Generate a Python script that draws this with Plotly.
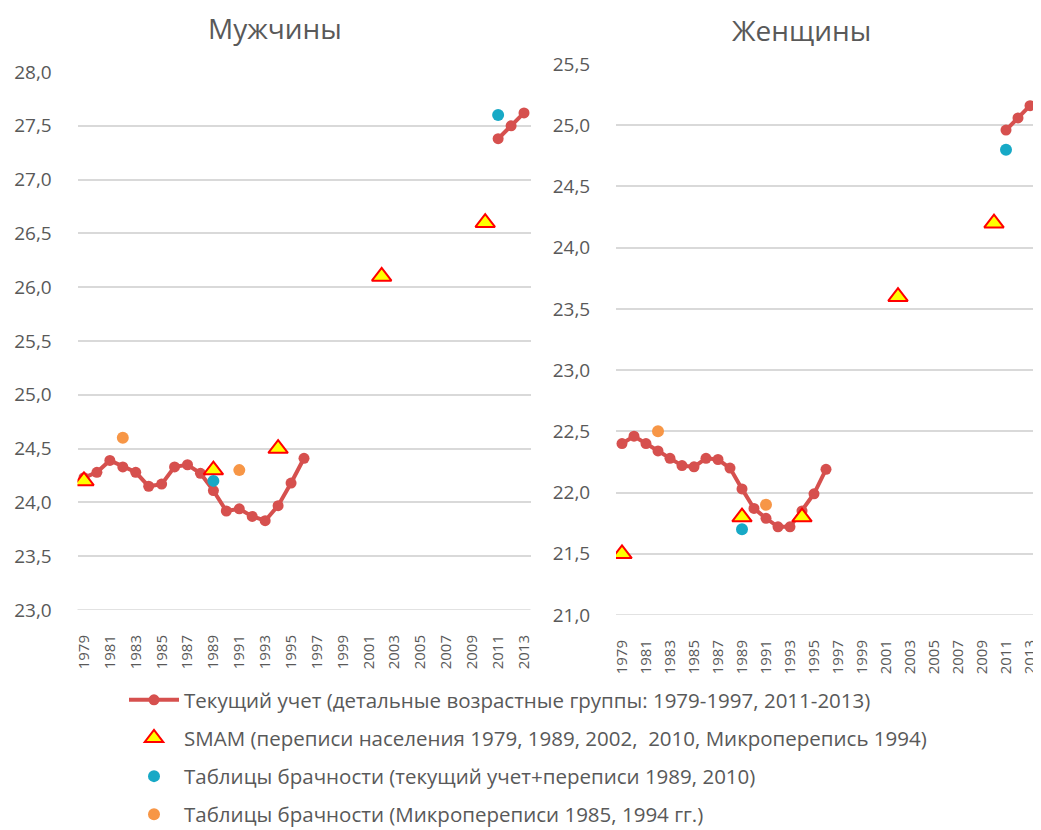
import plotly.graph_objects as go

years_line = list(range(1979, 1997)) + [2011, 2012, 2013]
men_line = [24.23, 24.28, 24.39, 24.33, 24.28, 24.15, 24.17, 24.33, 24.35, 24.27,
            24.11, 23.92, 23.94, 23.87, 23.83, 23.97, 24.18, 24.41,
            27.38, 27.50, 27.62]
women_line = [22.40, 22.46, 22.40, 22.34, 22.28, 22.22, 22.21, 22.28, 22.27, 22.20,
              22.03, 21.87, 21.79, 21.72, 21.72, 21.85, 21.99, 22.19,
              24.96, 25.06, 25.16]

smam_years = [1979, 1989, 1994, 2002, 2010]
men_smam = [24.2, 24.3, 24.5, 26.1, 26.6]
women_smam = [21.5, 21.8, 21.8, 23.6, 24.2]

tab_years = [1989, 2011]
men_tab = [24.2, 27.6]
women_tab = [21.7, 24.8]

micro_years = [1982, 1991]
men_micro = [24.6, 24.3]
women_micro = [22.5, 21.9]

tick_years = list(range(1979, 2014, 2))

names = [
    "Текущий учет (детальные возрастные группы: 1979-1997, 2011-2013)",
    "SMAM (переписи населения 1979, 1989, 2002,  2010, Микроперепись 1994)",
    "Таблицы брачности (текущий учет+переписи 1989, 2010)",
    "Таблицы брачности (Микропереписи 1985, 1994 гг.)",
]

RED = "#d6504e"
BLUE = "#17a9c6"
ORANGE = "#f79646"
GREY = "#595959"
FONT = "Open Sans"

def with_gap(xs, ys):
    ox, oy = [], []
    for i, (x, y) in enumerate(zip(xs, ys)):
        if i > 0 and x - xs[i - 1] > 1:
            ox.append(x - 1)
            oy.append(None)
        ox.append(x)
        oy.append(y)
    return ox, oy

fig = go.Figure()

for k, (line, smam, tab, micro) in enumerate([
        (men_line, men_smam, men_tab, men_micro),
        (women_line, women_smam, women_tab, women_micro)]):
    xa = "x" if k == 0 else "x2"
    ya = "y" if k == 0 else "y2"
    show = k == 0
    lx, ly = with_gap(years_line, line)
    fig.add_trace(go.Scatter(x=lx, y=ly, mode="lines+markers", name=names[0],
                             line=dict(color=RED, width=4), connectgaps=False,
                             marker=dict(color=RED, size=11),
                             xaxis=xa, yaxis=ya, showlegend=show, legendgroup="a"))
    fig.add_trace(go.Scatter(x=smam_years, y=smam, mode="markers", name=names[1],
                             marker=dict(symbol="triangle-up", color="#ffff00", size=17,
                                         line=dict(color="#ff0000", width=2)),
                             xaxis=xa, yaxis=ya, showlegend=show, legendgroup="b"))
    fig.add_trace(go.Scatter(x=tab_years, y=tab, mode="markers", name=names[2],
                             marker=dict(color=BLUE, size=12),
                             xaxis=xa, yaxis=ya, showlegend=show, legendgroup="c"))
    fig.add_trace(go.Scatter(x=micro_years, y=micro, mode="markers", name=names[3],
                             marker=dict(color=ORANGE, size=12),
                             xaxis=xa, yaxis=ya, showlegend=show, legendgroup="d"))

# page offset (browser body margin) and figure size
OFF = 8
W, H = 1041 - OFF, 830 - OFF
def fx(x):
    return (x - OFF) / W
def fy(y):
    return 1 - (y - OFF) / H

xcommon = dict(tickmode="array", tickvals=tick_years, ticktext=[str(y) for y in tick_years],
               tickangle=-90, tickfont=dict(size=15, color=GREY, family=FONT),
               showgrid=False, zeroline=False, showline=False, ticklabeloverflow="allow",
               ticks="outside", ticklen=18, tickcolor="rgba(0,0,0,0)", automargin=False)
ycommon = dict(tickformat=".1f", tickfont=dict(size=19, color=GREY, family=FONT),
               showgrid=True, gridcolor="#d9d9d9", gridwidth=1.5, zeroline=False,
               showline=False, ticks="outside", ticklen=21, tickcolor="rgba(0,0,0,0)",
               automargin=False)

fig.update_layout(
    template="none",
    width=W, height=H,
    margin=dict(l=0, r=0, t=0, b=0, pad=0, autoexpand=False),
    paper_bgcolor="white", plot_bgcolor="white",
    separators=", ",
    font=dict(family=FONT, color=GREY),
    xaxis=dict(domain=[fx(77.5), fx(530.5)], range=[1978.5, 2013.5], anchor="y", **xcommon),
    yaxis=dict(domain=[fy(610), fy(72)], range=[23, 28], dtick=0.5, anchor="x", **ycommon),
    xaxis2=dict(domain=[fx(616), fx(1036)], range=[1978.5, 2013.5], anchor="y2", **xcommon),
    yaxis2=dict(domain=[fy(615), fy(64)], range=[21, 25.5], dtick=0.5, anchor="x2", **ycommon),
    legend=dict(orientation="v", x=fx(124), y=fy(680), xanchor="left", yanchor="top",
                font=dict(size=20.5, color=GREY, family=FONT), tracegroupgap=8.5,
                bgcolor="rgba(0,0,0,0)", itemwidth=50),
    annotations=[
        dict(text="Мужчины", x=fx(275), y=fy(28), xref="paper", yref="paper",
             xanchor="center", yanchor="middle",
             showarrow=False, font=dict(size=28, color=GREY, family=FONT)),
        dict(text="Женщины", x=fx(801), y=fy(30), xref="paper", yref="paper",
             xanchor="center", yanchor="middle",
             showarrow=False, font=dict(size=28, color=GREY, family=FONT)),
    ],
)

fig.add_shape(type="line", xref="x domain", yref="y", x0=0, x1=1, y0=23, y1=23,
              line=dict(color="#d9d9d9", width=1.5))
fig.add_shape(type="line", xref="x2 domain", yref="y2", x0=0, x1=1, y0=21, y1=21,
              line=dict(color="#d9d9d9", width=1.5))

fig.write_html("out.html")
